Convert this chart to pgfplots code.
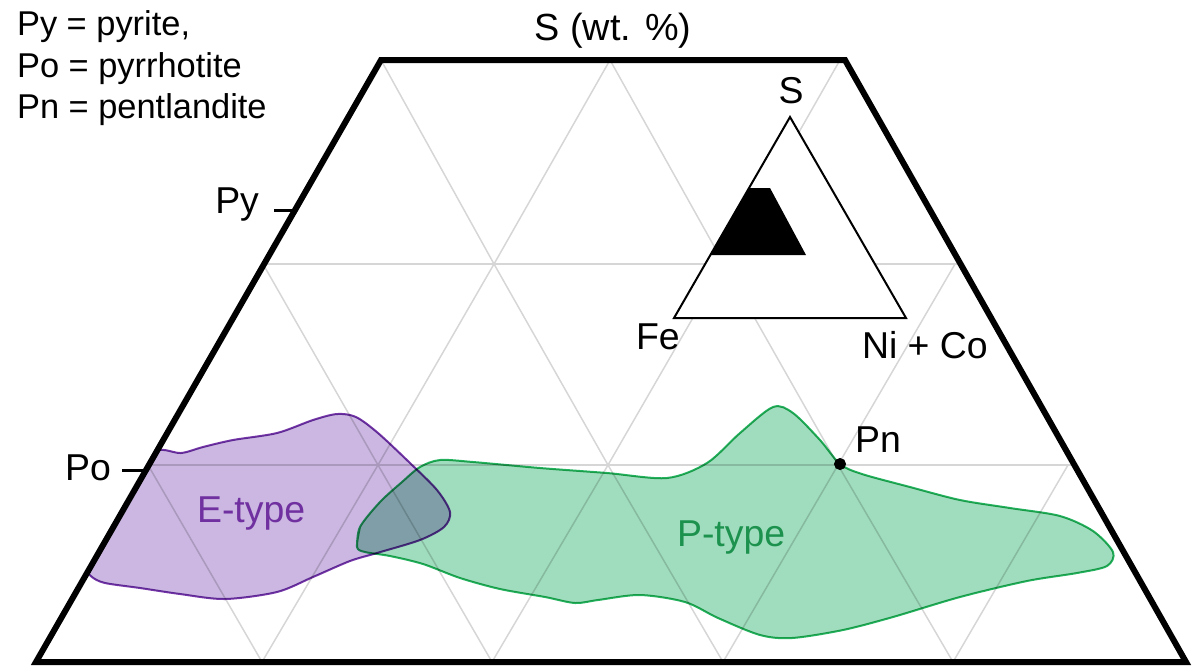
\documentclass[border=0pt]{standalone}
\usepackage{pgfplots}
\pgfplotsset{compat=1.18}
\usepackage{fontspec}
\setmainfont{Liberation Sans}

\definecolor{gridgray}{RGB}{214,214,214}
\definecolor{efill}{RGB}{203,183,225}
\definecolor{eline}{RGB}{118,55,168}
\definecolor{etext}{RGB}{112,48,160}
\definecolor{pfill}{RGB}{160,221,190}
\definecolor{pline}{RGB}{38,179,96}
\definecolor{ptext}{RGB}{28,146,78}

\newcommand{\legfont}{\fontsize{17.2}{20.7}\selectfont}
\newcommand{\labfont}{\fontsize{18.7}{22}\selectfont}

\begin{document}
\begin{tikzpicture}
\begin{axis}[
  scale only axis, width=596pt, height=333pt,
  xmin=0, xmax=1192, ymin=0, ymax=666, y dir=reverse,
  hide axis, clip=false,
  every node/.style={inner sep=0pt, outer sep=0pt},
]
\draw[draw=none] (rel axis cs:0,0) rectangle (rel axis cs:1,1);

% triangular grid of the S--Fe--(Ni+Co) section
\addplot[gridgray, line width=0.75pt] coordinates {(263,264) (961,264)};
\addplot[gridgray, line width=0.75pt] coordinates {(148,465) (1074,465)};
\addplot[gridgray, line width=0.75pt] coordinates {(381,60) (494,264) (608,465) (723,662)};
\addplot[gridgray, line width=0.75pt] coordinates {(610,60) (724,264) (838,465) (953,662)};
\addplot[gridgray, line width=0.75pt] coordinates {(263,264) (378,465) (492,662)};
\addplot[gridgray, line width=0.75pt] coordinates {(148,465) (262,662)};
\addplot[gridgray, line width=0.75pt] coordinates {(610,60) (494,264) (378,465) (262,662)};
\addplot[gridgray, line width=0.75pt] coordinates {(840,60) (724,264) (608,465) (492,662)};
\addplot[gridgray, line width=0.75pt] coordinates {(955,264) (838,465) (723,662)};
\addplot[gridgray, line width=0.75pt] coordinates {(1068,465) (953,662)};

% E-type field
\addplot[smooth, tension=0.5, fill=efill, draw=eline, line width=1pt, blend mode=multiply]
  coordinates {
  (104,545) (122,512) (140,480) (157,451) (181,453) (203,447) (233,440)
  (277,433) (313,420) (337,414) (356,417) (378,433) (410,463) (437,490)
  (450,512) (444,527) (420,540) (377,553) (350,561) (313,577) (277,592)
  (225,599) (180,594) (140,588) (105,583) (92,577) (89,570)
  (104,545) (122,512)};

% P-type field
\addplot[smooth, tension=0.5, fill=pfill, draw=pline, line width=1pt, blend mode=multiply]
  coordinates {
  (357,547) (360,527) (380,502) (402,482) (420,467) (440,460) (473,462)
  (540,468) (607,473) (667,478) (707,463) (740,433) (773,407) (793,413)
  (820,440) (840,464) (862,474) (910,487) (960,500) (1010,508) (1060,516)
  (1093,531) (1113,552) (1107,566) (1077,573) (1027,581) (960,597)
  (893,617) (843,630) (792,638) (760,635) (718,618) (685,602) (640,595)
  (598,600) (575,603) (545,597) (500,589) (460,578) (423,564) (390,556)
  (365,552) (357,547) (360,527)};

% outline of the diagram
\addplot[black, line width=3pt, line join=miter] coordinates {
  (36,662) (381,60) (845,60) (1186,662)} -- cycle;

% compositional range shown on the small S--Fe--(Ni+Co) triangle
\addplot[fill=white, draw=black, line width=1pt, line join=miter] coordinates {
  (790,117) (906,318) (674,318)} -- cycle;
\addplot[fill=black, draw=none] coordinates {
  (749,188) (770,188) (806,255) (710,255)} -- cycle;

% pentlandite composition
\addplot[only marks, mark=*, mark size=2.8pt, black] coordinates {(840,464)};

% axis marks for pyrite and pyrrhotite
\addplot[black, line width=1.5pt] coordinates {(274,210) (295,210)};
\addplot[black, line width=1.5pt] coordinates {(122,470) (146,470)};

% labels
\node[anchor=base] at (axis cs:613,40) {\fontsize{18.9}{22}\selectfont S (wt. \%)};
\node[anchor=base west] at (axis cs:10,35) {\legfont Py = pyrite,};
\node[anchor=base west] at (axis cs:10,77) {\legfont Po = pyrrhotite};
\node[anchor=base west] at (axis cs:10,118) {\legfont Pn = pentlandite};
\node[anchor=base east] at (axis cs:266,213) {\labfont Py};
\node[anchor=base east] at (axis cs:118,480) {\labfont Po};
\node[anchor=base west] at (axis cs:848,452) {\labfont Pn};
\node[anchor=base] at (axis cs:791,103) {\labfont S};
\node[anchor=base west] at (axis cs:629,349) {\labfont Fe};
\node[anchor=base west] at (axis cs:855,358) {\labfont Ni + Co};
\node[anchor=base west, text=etext] at (axis cs:190,522) {\labfont E-type};
\node[anchor=base west, text=ptext] at (axis cs:670,546) {\labfont P-type};
\end{axis}
\end{tikzpicture}
\end{document}
